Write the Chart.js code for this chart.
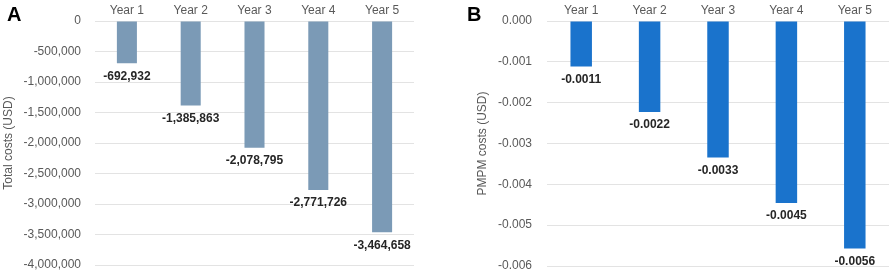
<!DOCTYPE html>
<html>
<head>
<meta charset="utf-8">
<script src="https://cdn.jsdelivr.net/npm/chart.js@4.4.1/dist/chart.umd.min.js"></script>
<style>
  html, body { margin: 0; padding: 0; background: #fff; }
  #wrap { position: relative; width: 892px; height: 274px; font-family: "Liberation Sans", Arial, sans-serif; }
  .panel { position: absolute; top: 0; width: 446px; height: 274px; }
  .tag { position: absolute; top: 3px; font-weight: bold; font-size: 20px; color: #000; }
</style>
</head>
<body>
<div id="wrap">
  <div class="panel" style="left:0"><canvas id="chart-a"></canvas></div>
  <div class="panel" style="left:446px"><canvas id="chart-b"></canvas></div>
  <div class="tag" style="left:7px">A</div>
  <div class="tag" style="left:467px">B</div>
</div>
<script>
const years = ["Year 1", "Year 2", "Year 3", "Year 4", "Year 5"]
const totalCosts = [-692932, -1385863, -2078795, -2771726, -3464658]
const pmpmCosts = [-0.001114, -0.002228, -0.003342, -0.004456, -0.00557]

const grey = "#595959"
const font = { family: "'Liberation Sans', Arial, sans-serif", size: 12 }

// draws the value under the end of each bar
const barLabels = {
  id: "barLabels",
  afterDatasetsDraw(chart, args, opts) {
    const c = chart.ctx
    const meta = chart.getDatasetMeta(0)
    const values = chart.data.datasets[0].data
    c.save()
    c.font = "bold 12px 'Liberation Sans', Arial, sans-serif"
    c.fillStyle = "#262626"
    c.textAlign = "center"
    c.textBaseline = "middle"
    meta.data.forEach((bar, i) => {
      c.fillText(opts.format(values[i]), bar.x, bar.y + 13)
    })
    c.restore()
  },
}

function makeChart(id, values, color, yOpts, layoutPad, axisWidth, titleText, titlePad, fmt) {
  return new Chart(document.getElementById(id), {
    type: "bar",
    data: {
      labels: years,
      datasets: [{
        data: values,
        backgroundColor: color,
        barPercentage: 0.314,
        categoryPercentage: 1,
      }],
    },
    options: {
      responsive: false,
      animation: false,
      layout: { padding: layoutPad },
      plugins: {
        legend: { display: false },
        tooltip: { enabled: false },
        barLabels: { format: fmt },
      },
      scales: {
        x: {
          position: "top",
          grid: { display: false, drawTicks: false },
          border: { display: false },
          ticks: { color: grey, font: font, padding: 3 },
          afterFit(s) { s.height = 21; s.paddingLeft = 0; s.paddingRight = 0 },
        },
        y: Object.assign({
          grid: { color: "#e3e3e3", drawTicks: false },
          border: { display: false },
          title: { display: true, text: titleText, color: grey, font: font, padding: titlePad },
          afterFit(s) { s.width = axisWidth; s.paddingTop = 0; s.paddingBottom = 0 },
        }, yOpts),
      },
    },
    plugins: [barLabels],
  })
}

document.getElementById("chart-a").width = 446
document.getElementById("chart-a").height = 274
document.getElementById("chart-b").width = 446
document.getElementById("chart-b").height = 274

makeChart("chart-a", totalCosts, "#7b9ab6", {
  min: -4000000, max: 0,
  ticks: { stepSize: 500000, color: grey, font: font, padding: 14,
    callback: v => Number(v).toLocaleString("en-US") },
}, { top: 0, left: 0, right: 32, bottom: 9 }, 95, "Total costs (USD)", { top: 1, bottom: 0 },
  v => v.toLocaleString("en-US"))

makeChart("chart-b", pmpmCosts, "#1a73cc", {
  min: -0.006, max: 0,
  ticks: { stepSize: 0.001, color: grey, font: font, padding: 15,
    callback: v => Math.abs(v) < 1e-9 ? "0.000" : Number(v).toFixed(3) },
}, { top: 0, left: 0, right: 3, bottom: 8 }, 101, "PMPM costs (USD)", { top: 29, bottom: 0 },
  v => v.toFixed(4))
</script>
</body>
</html>
